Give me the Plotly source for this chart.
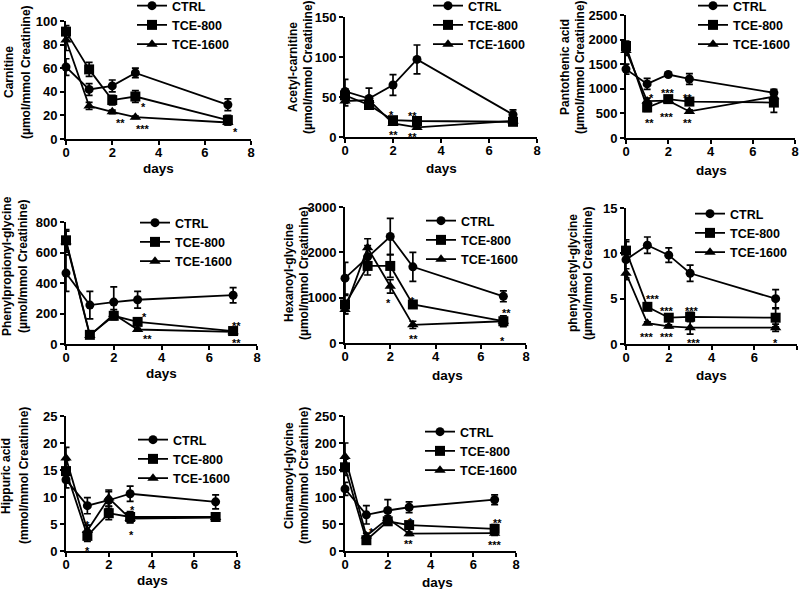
import plotly.graph_objects as go

days = [0, 1, 2, 3, 7]
series_names = ["CTRL", "TCE-800", "TCE-1600"]
series_symbols = ["circle", "square", "triangle-up"]
series_sizes = [9, 10, 10]

# ---- data (mean, error) per panel: rows = CTRL, TCE-800, TCE-1600 ----
carnitine_mean = [[61, 42, 45, 56, 29], [91, 59, 33, 36, 16], [84, 28, 23, 18.5, 14]]
carnitine_err = [[7, 5, 5, 4, 5], [5, 6, 4, 5, 4], [9, 3, 1.5, 1, 2]]

acetylcarnitine_mean = [[57, 48, 65, 97, 28], [52, 40, 21, 20, 19], [45, 46, 17, 12, 20]]
acetylcarnitine_err = [[15, 13, 13, 18, 6], [8, 5, 3, 2, 3], [6, 5, 2, 2, 2]]

pantothenic_mean = [[1400, 1100, 1290, 1200, 920], [1870, 620, 790, 740, 720], [1780, 750, 760, 540, 840]]
pantothenic_err = [[100, 110, 40, 110, 70], [100, 80, 70, 40, 200], [100, 60, 50, 30, 60]]

phenylpropionyl_mean = [[465, 255, 275, 290, 320], [680, 60, 185, 145, 85], [670, 55, 195, 95, 80]]
phenylpropionyl_err = [[120, 90, 100, 55, 50], [70, 10, 25, 10, 10], [70, 8, 30, 8, 8]]

hexanoyl_mean = [[1430, 1900, 2350, 1680, 1030], [850, 1700, 1700, 850, 480], [740, 2100, 1250, 400, 480]]
hexanoyl_err = [[350, 250, 400, 320, 120], [200, 200, 250, 60, 120], [100, 200, 150, 80, 60]]

phenylacetyl_mean = [[9.3, 10.9, 9.8, 7.8, 5.0], [10.3, 4.1, 2.9, 3.0, 2.9], [7.8, 2.3, 1.95, 1.8, 1.8]]
phenylacetyl_err = [[2.2, 0.9, 0.8, 0.9, 1.0], [1.0, 0.4, 0.3, 0.5, 1.0], [0.5, 0.15, 0.15, 0.7, 0.4]]

hippuric_mean = [[13.2, 8.4, 9.4, 10.6, 9.1], [14.8, 2.8, 7.0, 6.3, 6.3], [17.2, 3.8, 9.8, 6.0, 6.2]]
hippuric_err = [[1.5, 1.5, 1.6, 1.4, 1.3], [2.0, 1.0, 1.2, 1.0, 0.5], [2.0, 1.0, 1.5, 0.8, 0.3]]

cinnamoyl_mean = [[115, 67, 75, 81, 95], [155, 20, 55, 48, 41], [175, 28, 60, 32, 33]]
cinnamoyl_err = [[12, 17, 20, 10, 9], [15, 5, 5, 5, 8], [25, 5, 5, 3, 4]]

# significance marks (day, value, text)
carnitine_sig = [(3.35, 30, "*"), (2.37, 16.4, "**"), (3.32, 10.7, "***"), (7.32, 8.8, "*")]
acetylcarnitine_sig = [(1.93, 31, "*"), (2.8, 30, "**"), (2.0, 5.8, "**"), (2.8, 3.3, "**")]
pantothenic_sig = [(1.21, 880, "*"), (2.0, 970, "***"), (2.9, 880, "**"), (1.09, 373, "**"),
                   (1.92, 481, "***"), (2.9, 373, "**")]
phenylpropionyl_sig = [(3.28, 197, "*"), (3.42, 55, "**"), (7.14, 135, "**"), (7.14, 26, "**")]
hexanoyl_sig = [(1.92, 950, "*"), (2.98, 1000, "*"), (3.03, 146, "**"), (7.16, 730, "**"), (6.94, 110, "*")]
phenylacetyl_sig = [(1.28, 5.3, "***"), (1.94, 3.95, "***"), (3.08, 3.95, "***"), (0.97, 1.1, "***"),
                    (1.94, 1.1, "***"), (3.16, 0.45, "***"), (7.0, 0.45, "*")]
hippuric_sig = [(1.0, 5.4, "*"), (1.0, 0.55, "*"), (3.1, 8.1, "*"), (3.05, 3.5, "*")]
cinnamoyl_sig = [(1.25, 41, "*"), (3.05, 59, "*"), (2.97, 18, "**"), (7.14, 58, "**"), (7.03, 17, "***")]

y_titles = [
    ("Carnitine", "(µmol/mmol Creatinine)"),
    ("Acetyl-carnitine", "(µmol/mmol Creatinine)"),
    ("Pantothenic acid", "(µmol/mmol Creatinine)"),
    ("Phenylpropionyl-glycine", "(µmol/mmol Creatinine)"),
    ("Hexanoyl-glycine", "(µmol/mmol Creatinine)"),
    ("phenylacetyl-glycine", "(µmol/mmol Creatinine)"),
    ("Hippuric acid", "(mmol/mmol Creatinine)"),
    ("Cinnamoyl-glycine", "(mmol/mmol Creatinine)"),
]
y_ranges = [(0, 100, 20), (0, 150, 50), (0, 2500, 500), (0, 800, 200),
            (0, 3000, 1000), (0, 15, 5), (0, 25, 5), (0, 250, 50)]
x_ticks = [0, 2, 4, 6, 8]

panels_mean = [carnitine_mean, acetylcarnitine_mean, pantothenic_mean, phenylpropionyl_mean,
               hexanoyl_mean, phenylacetyl_mean, hippuric_mean, cinnamoyl_mean]
panels_err = [carnitine_err, acetylcarnitine_err, pantothenic_err, phenylpropionyl_err,
              hexanoyl_err, phenylacetyl_err, hippuric_err, cinnamoyl_err]
panels_sig = [carnitine_sig, acetylcarnitine_sig, pantothenic_sig, phenylpropionyl_sig,
              hexanoyl_sig, phenylacetyl_sig, hippuric_sig, cinnamoyl_sig]

# ---- layout geometry (pixels) ----
W, H = 800, 589
# plot boxes: x0, x1, ytop, ybottom
boxes = [(66, 251, 21, 139), (345, 537, 17, 137), (626, 795, 15, 138),
         (66, 257, 222, 344), (345, 526, 207, 343), (626, 797, 208, 344),
         (66, 237, 416, 551), (345, 516, 416, 551)]
# y title line centres (x of line1, x of line2, y centre)
ytitle_pos = [(9, 26, 72), (293, 308, 67), (565, 580, 67), (7, 23, 266),
              (289, 304, 273), (573, 588, 273), (6, 24, 476), (289, 304, 476)]
# "days" title centre
xtitle_pos = [(158, 169), (441, 168), (711, 170), (161, 373), (447, 375), (711, 375), (152, 580), (437, 582)]
# legend: text start x, first row centre y
legend_pos = [(172, 5), (468, 5), (733, 5), (175, 222), (461, 220), (730, 213), (173, 439), (460, 431)]

FONT = "Liberation Sans, Arial, sans-serif"

fig = go.Figure()
layout = dict(
    width=W, height=H, margin=dict(l=0, r=0, t=0, b=0, autoexpand=False),
    paper_bgcolor="white", plot_bgcolor="white",
    font=dict(family=FONT, color="black"),
    annotations=[],
)

for i in range(8):
    n = i + 1
    sfx = "" if n == 1 else str(n)
    xa, ya = "x" + sfx, "y" + sfx
    lg = "legend" + sfx
    x0, x1, yt, yb = boxes[i]
    ymin, ymax, ystep = y_ranges[i]
    for s in range(3):
        fig.add_trace(go.Scatter(
            x=days, y=panels_mean[i][s], name=series_names[s],
            mode="lines+markers", xaxis=xa, yaxis=ya, legend=lg,
            line=dict(color="black", width=1.8),
            marker=dict(symbol=series_symbols[s], size=series_sizes[s], color="black"),
            error_y=dict(type="data", array=panels_err[i][s], color="black", thickness=1.7, width=3.5),
            cliponaxis=False, showlegend=True,
        ))
    layout["xaxis" + sfx] = dict(
        domain=[x0 / W, x1 / W], anchor=ya, range=[0, 8], tickvals=x_ticks,
        showline=True, linecolor="black", linewidth=1.8, ticks="outside", ticklen=4,
        tickwidth=1.8, tickcolor="black", showgrid=False, zeroline=False,
        ticklabelstandoff=-4,
        tickfont=dict(family=FONT, size=13, weight="bold", color="black"),
    )
    layout["yaxis" + sfx] = dict(
        domain=[1 - yb / H, 1 - yt / H], anchor=xa, range=[ymin, ymax],
        tickvals=list(range(ymin, ymax + 1, ystep)),
        showline=True, linecolor="black", linewidth=1.8, ticks="outside", ticklen=4,
        tickwidth=1.8, tickcolor="black", showgrid=False, zeroline=False,
        tickfont=dict(family=FONT, size=13, weight="bold", color="black"),
    )
    tx, ty = legend_pos[i]
    layout[lg] = dict(
        x=(tx - 40) / W, y=1 - (ty - 14) / H, xanchor="left", yanchor="top",
        bgcolor="rgba(0,0,0,0)", borderwidth=0, tracegroupgap=0,
        font=dict(family=FONT, size=12.5, weight="bold", color="black"),
    )
    l1x, l2x, tyc = ytitle_pos[i]
    t1, t2 = y_titles[i]
    for txt, px in ((t1, l1x), (t2, l2x)):
        layout["annotations"].append(dict(
            text=txt, x=px / W, y=1 - tyc / H, xref="paper", yref="paper",
            textangle=-90, showarrow=False, xanchor="center", yanchor="middle",
            font=dict(family=FONT, size=12, weight="bold", color="black"),
        ))
    dx, dy = xtitle_pos[i]
    layout["annotations"].append(dict(
        text="days", x=dx / W, y=1 - dy / H, xref="paper", yref="paper",
        showarrow=False, xanchor="center", yanchor="middle",
        font=dict(family=FONT, size=13.5, weight="bold", color="black"),
    ))
    for (sx, sy, st) in panels_sig[i]:
        layout["annotations"].append(dict(
            text=st, x=sx, y=sy, xref=xa, yref=ya, showarrow=False,
            xanchor="center", yanchor="middle", yshift=-3,
            font=dict(family=FONT, size=11, weight="bold", color="black"),
        ))

fig.update_layout(**layout)
fig.write_html("out.html", config={"displayModeBar": False},
               post_script="document.body.style.margin='0';")
